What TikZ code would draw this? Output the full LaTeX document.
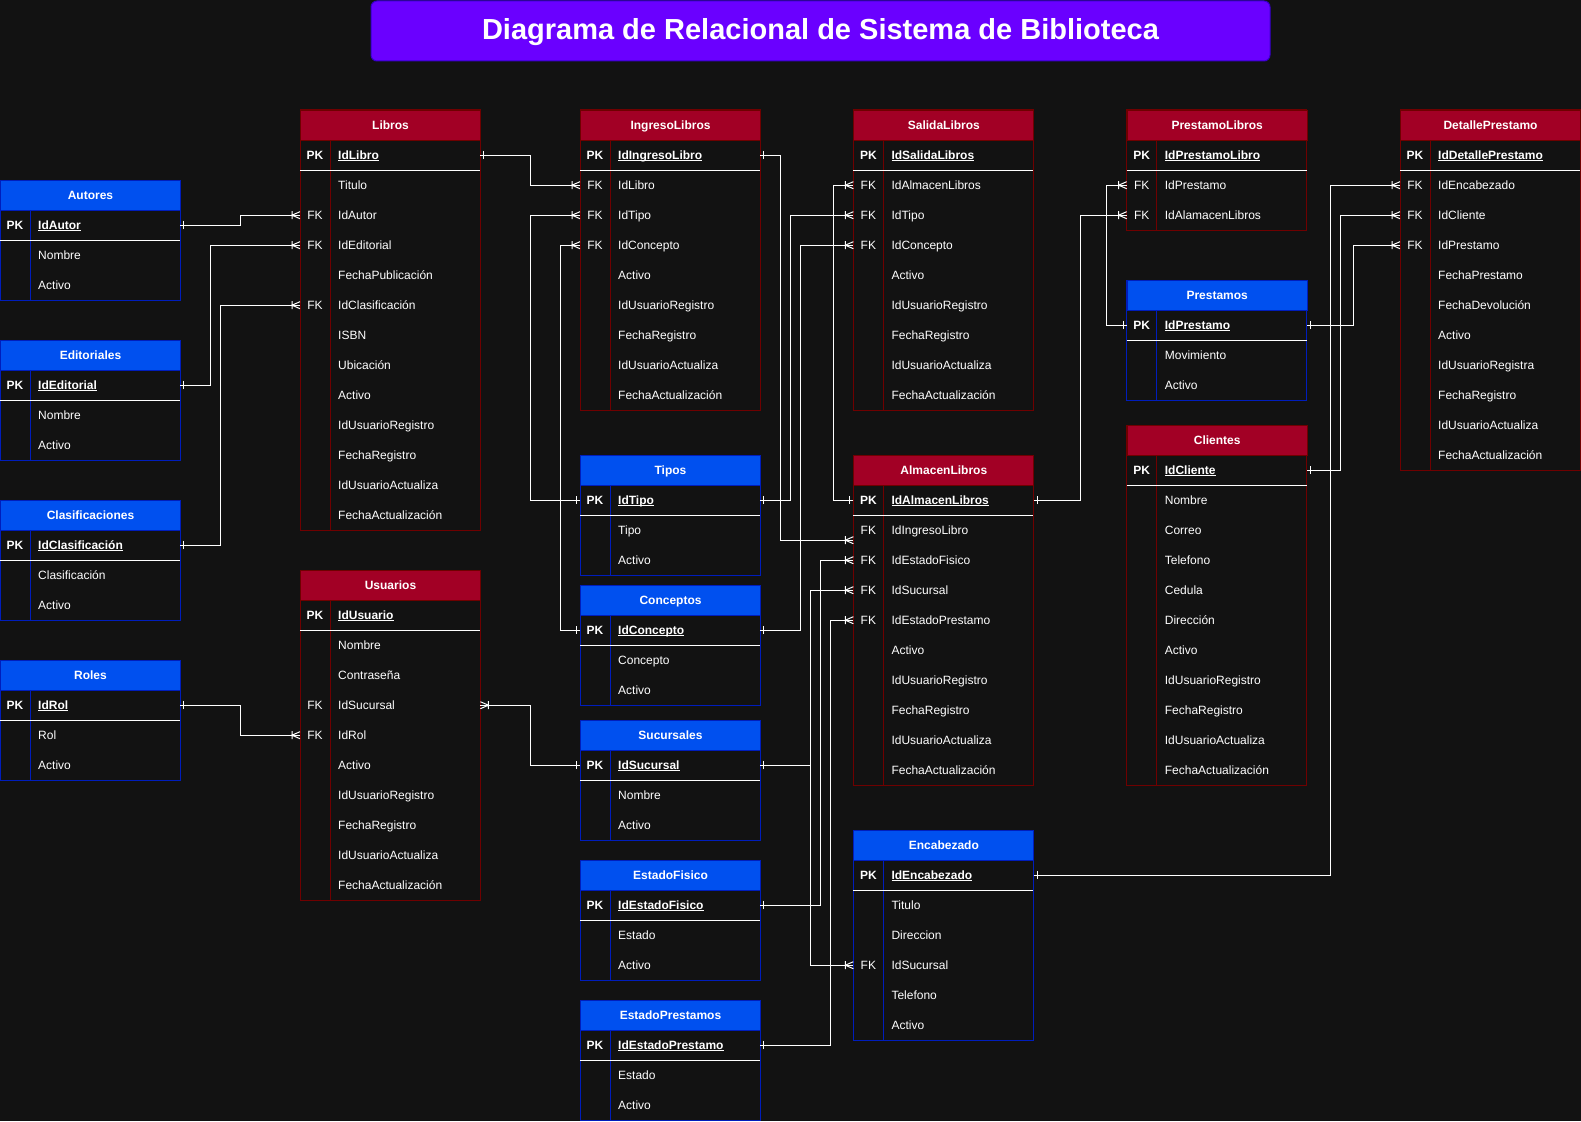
\documentclass[tikz,border=0pt]{standalone}
\usepackage{fontspec}
\setmainfont{Liberation Sans}
\usetikzlibrary{calc}

\definecolor{canvas}{HTML}{121212}
\definecolor{redhead}{HTML}{A20025}
\definecolor{redline}{HTML}{6F0000}
\definecolor{bluehead}{HTML}{0050EF}
\definecolor{blueline}{HTML}{001DBC}
\definecolor{titlefill}{HTML}{6A00FF}
\definecolor{titleline}{HTML}{3700CC}

% ER notation: a single bar (one) and a bar with crow's foot (one or many)
\pgfdeclarearrow{
  name = ERone,
  setup code = {
    \pgfarrowssettipend{0pt}
    \pgfarrowssetlineend{0pt}
    \pgfarrowssetbackend{-5pt}
    \pgfarrowssetvisualbackend{-5pt}
    \pgfarrowsupperhullpoint{0pt}{4pt}
    \pgfarrowsupperhullpoint{-5pt}{4pt}
  },
  drawing code = {
    \pgfpathmoveto{\pgfqpoint{-3.5pt}{4pt}}
    \pgfpathlineto{\pgfqpoint{-3.5pt}{-4pt}}
    \pgfusepathqstroke
  },
  parameters = {},
}
\pgfdeclarearrow{
  name = ERmany,
  setup code = {
    \pgfarrowssettipend{0pt}
    \pgfarrowssetlineend{0pt}
    \pgfarrowssetbackend{-9pt}
    \pgfarrowssetvisualbackend{-9pt}
    \pgfarrowsupperhullpoint{0pt}{4pt}
    \pgfarrowsupperhullpoint{-9pt}{4pt}
  },
  drawing code = {
    \pgfpathmoveto{\pgfqpoint{0pt}{3.5pt}}
    \pgfpathlineto{\pgfqpoint{-8pt}{0pt}}
    \pgfpathlineto{\pgfqpoint{0pt}{-3.5pt}}
    \pgfpathmoveto{\pgfqpoint{-8pt}{4pt}}
    \pgfpathlineto{\pgfqpoint{-8pt}{-4pt}}
    \pgfusepathqstroke
  },
  parameters = {},
}

\tikzset{
  erbody/.style={fill=canvas, draw=#1line, line width=1pt},
  erhead/.style={fill=#1head, draw=#1line, line width=1pt, text=white,
    font=\bfseries\fontsize{12}{14}\selectfont, minimum width=180pt,
    minimum height=30pt, inner sep=0pt, anchor=north west,
    text height=11pt, text depth=2.5pt},
  errow/.style={minimum width=180pt, minimum height=30pt, inner sep=0pt,
    anchor=north west},
  keytxt/.style={text=white, font=\fontsize{12}{14}\selectfont, inner sep=0pt,
    text height=11pt, text depth=2.5pt},
  fieldtxt/.style={keytxt, anchor=west},
  boldtxt/.style={font=\bfseries\fontsize{12}{14}\selectfont},
  conn/.style={draw=white, line width=1pt, arrows={ERone-ERmany}},
  titlebox/.style={fill=titlefill, draw=titleline, line width=1pt,
    rounded corners=6pt, minimum width=899pt, minimum height=60pt,
    text height=21pt, text depth=4pt, inner sep=0pt,
    text=white, font=\bfseries\fontsize{29}{34}\selectfont},
}

\newcommand\pkul[1]{\setbox0=\hbox{#1}\rlap{\rule[-1.8pt]{\wd0}{0.9pt}}\box0}

% #1 name, #2 x, #3 y, #4 title, #5 scheme (red/blue), #6 rows, #7 key/field list
\newcommand\ertable[7]{%
  \path[erbody=#5] (#2,#3) rectangle ++(180,{30+30*#6});
  \node[erhead=#5] (#1) at (#2,#3) {#4};
  \draw[line width=1pt, draw=#5line] (#2+30,#3+30) -- ++(0,{30*#6});
  \foreach \ekey/\efield [count=\erow] in {#7}{%
    \node[errow] (#1-\erow) at (#2,{#3+30*\erow}) {};
    \ifnum\erow=1
      \node[keytxt, boldtxt] at ([xshift=15pt]#1-\erow.west) {\ekey};
      \node[fieldtxt, boldtxt] at ([xshift=38pt]#1-\erow.west) {\pkul{\efield}};
    \else
      \node[keytxt] at ([xshift=15pt]#1-\erow.west) {\ekey};
      \node[fieldtxt] at ([xshift=38pt]#1-\erow.west) {\efield};
    \fi
  }%
  \draw[white, line width=1pt] (#2,#3+60) -- ++(180,0);
}

\begin{document}
\begin{tikzpicture}[x=1pt, y=-1pt]
\useasboundingbox (0,0) rectangle (1581,1121);
\fill[canvas] (0,0) rectangle (1581,1121);

\node[titlebox] (title) at (820.5,31) {Diagrama de Relacional de Sistema de Biblioteca};

% catalogue tables on the left
\ertable{autores}{0}{180}{Autores}{blue}{3}{PK/IdAutor, /Nombre, /Activo}
\ertable{editoriales}{0}{340}{Editoriales}{blue}{3}{PK/IdEditorial, /Nombre, /Activo}
\ertable{clasificaciones}{0}{500}{Clasificaciones}{blue}{3}{PK/IdClasificación, /Clasificación, /Activo}
\ertable{roles}{0}{660}{Roles}{blue}{3}{PK/IdRol, /Rol, /Activo}

\ertable{libros}{300}{110}{Libros}{red}{13}{PK/IdLibro, /Titulo, FK/IdAutor, FK/IdEditorial, /FechaPublicación, FK/IdClasificación, /ISBN, /Ubicación, /Activo, /IdUsuarioRegistro, /FechaRegistro, /IdUsuarioActualiza, /FechaActualización}
\ertable{usuarios}{300}{570}{Usuarios}{red}{10}{PK/IdUsuario, /Nombre, /Contraseña, FK/IdSucursal, FK/IdRol, /Activo, /IdUsuarioRegistro, /FechaRegistro, /IdUsuarioActualiza, /FechaActualización}

\ertable{ingreso}{580}{110}{IngresoLibros}{red}{9}{PK/IdIngresoLibro, FK/IdLibro, FK/IdTipo, FK/IdConcepto, /Activo, /IdUsuarioRegistro, /FechaRegistro, /IdUsuarioActualiza, /FechaActualización}
\ertable{tipos}{580}{455}{Tipos}{blue}{3}{PK/IdTipo, /Tipo, /Activo}
\ertable{conceptos}{580}{585}{Conceptos}{blue}{3}{PK/IdConcepto, /Concepto, /Activo}
\ertable{sucursales}{580}{720}{Sucursales}{blue}{3}{PK/IdSucursal, /Nombre, /Activo}
\ertable{estfisico}{580}{860}{EstadoFisico}{blue}{3}{PK/IdEstadoFisico, /Estado, /Activo}
\ertable{estprest}{580}{1000}{EstadoPrestamos}{blue}{3}{PK/IdEstadoPrestamo, /Estado, /Activo}

\ertable{salida}{853.33}{110}{SalidaLibros}{red}{9}{PK/IdSalidaLibros, FK/IdAlmacenLibros, FK/IdTipo, FK/IdConcepto, /Activo, /IdUsuarioRegistro, /FechaRegistro, /IdUsuarioActualiza, /FechaActualización}
\ertable{almacen}{853.33}{455}{AlmacenLibros}{red}{10}{PK/IdAlmacenLibros, FK/IdIngresoLibro, FK/IdEstadoFisico, FK/IdSucursal, FK/IdEstadoPrestamo, /Activo, /IdUsuarioRegistro, /FechaRegistro, /IdUsuarioActualiza, /FechaActualización}
\ertable{encabezado}{853.33}{830}{Encabezado}{blue}{6}{PK/IdEncabezado, /Titulo, /Direccion, FK/IdSucursal, /Telefono, /Activo}

\ertable{prestlib}{1126.67}{110}{PrestamoLibros}{red}{3}{PK/IdPrestamoLibro, FK/IdPrestamo, FK/IdAlamacenLibros}
\ertable{prestamos}{1126.67}{280}{Prestamos}{blue}{3}{PK/IdPrestamo, /Movimiento, /Activo}
\ertable{clientes}{1126.67}{425}{Clientes}{red}{11}{PK/IdCliente, /Nombre, /Correo, /Telefono, /Cedula, /Dirección, /Activo, /IdUsuarioRegistro, /FechaRegistro, /IdUsuarioActualiza, /FechaActualización}

\ertable{detalle}{1400}{110}{DetallePrestamo}{red}{11}{PK/IdDetallePrestamo, FK/IdEncabezado, FK/IdCliente, FK/IdPrestamo, /FechaPrestamo, /FechaDevolución, /Activo, /IdUsuarioRegistra, /FechaRegistro, /IdUsuarioActualiza, /FechaActualización}

% relationships: one end at the primary key, many end at the foreign key
\draw[conn] (autores-1.east) -- ++(60,0) |- (libros-3.west);
\draw[conn] (editoriales-1.east) -- ++(30,0) |- (libros-4.west);
\draw[conn] (clasificaciones-1.east) -- ++(40,0) |- (libros-6.west);
\draw[conn] (roles-1.east) -- ++(60,0) |- (usuarios-5.west);
\draw[conn] (sucursales-1.west) -- ++(-50,0) |- (usuarios-4.east);

\draw[conn] (libros-1.east) -- ++(50,0) |- (ingreso-2.west);
\draw[conn] (tipos-1.west) -- ++(-50,0) |- (ingreso-3.west);
\draw[conn] (conceptos-1.west) -- ++(-20,0) |- (ingreso-4.west);

\coordinate (almacen-2-link) at ([yshift=-10pt]almacen-2.west);
\draw[conn] (ingreso-1.east) -- ++(20,0) |- (almacen-2-link);
\draw[conn] (tipos-1.east) -- ++(30,0) |- (salida-3.west);
\draw[conn] (conceptos-1.east) -- ++(40,0) |- (salida-4.west);
\draw[conn] (almacen-1.west) -- ++(-20,0) |- (salida-2.west);

\draw[conn] (sucursales-1.east) -- ++(50,0) |- (almacen-4.west);
\draw[conn] (sucursales-1.east) -- ++(50,0) |- (encabezado-4.west);
\draw[conn] (estfisico-1.east) -- ++(60,0) |- (almacen-3.west);
\draw[conn] (estprest-1.east) -- ++(70,0) |- (almacen-5.west);

\draw[conn] (almacen-1.east) -- ++(46.67,0) |- (prestlib-3.west);
\draw[conn] (prestamos-1.west) -- ++(-20,0) |- (prestlib-2.west);
\draw[conn] (prestamos-1.east) -- ++(46.67,0) |- (detalle-4.west);
\draw[conn] (clientes-1.east) -- ++(33.33,0) |- (detalle-3.west);
\draw[conn] (encabezado-1.east) -- ++(296.67,0) |- (detalle-2.west);
\end{tikzpicture}
\end{document}
